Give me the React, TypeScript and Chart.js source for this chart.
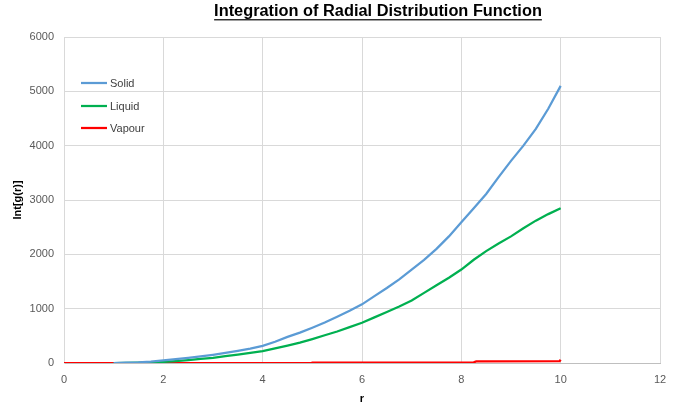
import React, { useEffect, useRef } from "react";
import { Chart, registerables } from "chart.js";

Chart.register(...registerables);

const chartTitle = "Integration of Radial Distribution Function";
const xTitle = "r";
const yTitle = "Int[g(r)]";

const rValues = [
  1.0, 1.25, 1.5, 1.75, 2.0, 2.25, 2.5, 2.75, 3.0, 3.25, 3.5, 3.75, 4.0, 4.25, 4.5, 4.75,
  5.0, 5.25, 5.5, 5.75, 6.0, 6.25, 6.5, 6.75, 7.0, 7.25, 7.5, 7.75, 8.0, 8.25, 8.5, 8.75,
  9.0, 9.25, 9.5, 9.75, 10.0,
];
const solidValues = [
  0, 5, 12, 25, 50, 70, 95, 120, 150, 185, 225, 265, 315, 390, 480, 560,
  650, 745, 850, 960, 1080, 1230, 1380, 1540, 1720, 1900, 2100, 2330, 2590, 2850, 3110, 3420,
  3720, 4000, 4310, 4680, 5100,
];
const liquidValues = [
  0, 2, 6, 12, 20, 35, 55, 75, 95, 125, 155, 185, 220, 270, 320, 375,
  440, 510, 580, 660, 740, 840, 940, 1040, 1150, 1290, 1430, 1570, 1720, 1900, 2060, 2200,
  2330, 2480, 2620, 2740, 2850,
];
const vapourR = [0, 4.98, 5.0, 8.25, 8.3, 9.98, 10.0];
const vapourValues = [0, 0, 8, 12, 30, 35, 60];

const xTicks = [0, 2, 4, 6, 8, 10, 12];
const yTicks = [0, 1000, 2000, 3000, 4000, 5000, 6000];

const seriesNames = ["Solid", "Liquid", "Vapour"];
const seriesColors = ["#5B9BD5", "#00B050", "#FF0000"];

const FONT = "'Liberation Sans', Arial, sans-serif";

const textPlugin = {
  id: "textPlugin",
  afterDraw(chart: any) {
    const ctx = chart.ctx as CanvasRenderingContext2D;
    const area = chart.chartArea;
    ctx.save();
    let size = 18;
    ctx.font = `bold ${size}px ${FONT}`;
    const target = 328;
    const w0 = ctx.measureText(chartTitle).width;
    size = (size * target) / w0;
    ctx.font = `bold ${size}px ${FONT}`;
    ctx.fillStyle = "#000000";
    ctx.textAlign = "center";
    ctx.textBaseline = "middle";
    const tx = 378;
    const ty = 11;
    ctx.fillText(chartTitle, tx, ty);
    const tw = ctx.measureText(chartTitle).width;
    ctx.fillRect(tx - tw / 2, ty + size * 0.5, tw, 1.2);

    ctx.font = `bold 11px ${FONT}`;
    ctx.fillStyle = "#000000";
    ctx.fillText(xTitle, (area.left + area.right) / 2, 399);
    ctx.save();
    ctx.translate(18, 200);
    ctx.rotate(-Math.PI / 2);
    ctx.fillText(yTitle, 0, 0);
    ctx.restore();

    ctx.font = `11px ${FONT}`;
    ctx.textAlign = "left";
    const ys = [83, 106, 128];
    chart.data.datasets.forEach((ds: any, i: number) => {
      ctx.strokeStyle = ds.borderColor;
      ctx.lineWidth = 2.25;
      ctx.beginPath();
      ctx.moveTo(81, ys[i]);
      ctx.lineTo(107, ys[i]);
      ctx.stroke();
      ctx.fillStyle = "#404040";
      ctx.fillText(ds.label, 110, ys[i] + 0.5);
    });
    ctx.restore();
  },
};

export default function App() {
  const ref = useRef<HTMLCanvasElement | null>(null);

  useEffect(() => {
    if (!ref.current) return;
    const toPts = (xs: number[], ys: number[]) => xs.map((x, i) => ({ x, y: ys[i] }));
    const chart = new Chart(ref.current, {
      type: "line",
      data: {
        datasets: [
          { label: seriesNames[0], data: toPts(rValues, solidValues), borderColor: seriesColors[0] },
          { label: seriesNames[1], data: toPts(rValues, liquidValues), borderColor: seriesColors[1] },
          { label: seriesNames[2], data: toPts(vapourR, vapourValues), borderColor: seriesColors[2] },
        ].map((d) => ({
          ...d,
          backgroundColor: d.borderColor,
          borderWidth: 2.25,
          pointRadius: 0,
          tension: 0,
          fill: false,
        })),
      },
      options: {
        animation: false,
        responsive: false,
        maintainAspectRatio: false,
        layout: { padding: { top: 37, right: 14, bottom: 0, left: 0 } },
        plugins: {
          legend: { display: false },
          title: { display: false },
          tooltip: { enabled: false },
        },
        scales: {
          x: {
            type: "linear",
            min: 0,
            max: 12,
            afterBuildTicks: (s: any) => {
              s.ticks = xTicks.map((v) => ({ value: v }));
            },
            afterFit: (s: any) => {
              s.height = 47;
              s.paddingLeft = 0;
              s.paddingRight = 0;
            },
            grid: { color: "#D9D9D9", drawTicks: false, lineWidth: 1 },
            border: { color: "#BFBFBF", width: 1 },
            ticks: {
              color: "#595959",
              font: { family: FONT, size: 11 },
              padding: 10,
              maxRotation: 0,
              callback: (v: any) => String(v),
            },
          },
          y: {
            type: "linear",
            min: 0,
            max: 6000,
            afterBuildTicks: (s: any) => {
              s.ticks = yTicks.map((v) => ({ value: v }));
            },
            afterFit: (s: any) => {
              s.width = 64;
              s.paddingTop = 0;
              s.paddingBottom = 0;
            },
            grid: { color: "#D9D9D9", drawTicks: false, lineWidth: 1 },
            border: { color: "#D9D9D9", width: 1 },
            ticks: {
              color: "#595959",
              font: { family: FONT, size: 11 },
              padding: 10,
              callback: (v: any) => String(v),
            },
          },
        },
      },
      plugins: [textPlugin],
    });
    return () => chart.destroy();
  }, []);

  return (
    <div style={{ position: "fixed", left: 0, top: 0, width: 674, height: 410, background: "#fff" }}>
      <canvas ref={ref} width={674} height={410} style={{ width: 674, height: 410 }} />
    </div>
  );
}
